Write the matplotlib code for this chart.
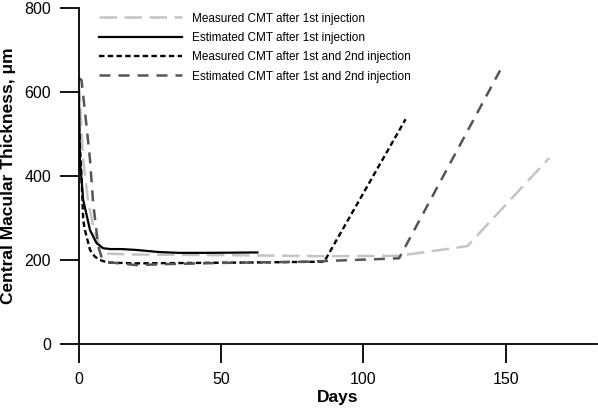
import matplotlib
matplotlib.use("Agg")
import matplotlib.pyplot as plt

plt.rcParams['font.family'] = ['Liberation Sans', 'DejaVu Sans']

# Measured CMT after 1st injection
m1_days = [0, 1.5, 3.3, 5.6, 7.4, 10, 20, 40, 60, 86, 112, 123, 136.5, 165.3]
m1_cmt = [620, 438, 335, 264, 232, 215, 213, 212, 211, 209, 210, 220, 233, 443]

# Estimated CMT after 1st injection
e1_days = [0, 0.35, 1.5, 3.9, 6.2, 8.5, 11, 15, 20, 28, 35, 45, 62.7]
e1_cmt = [600, 438, 343, 271, 240, 228, 226, 226, 224, 219, 217, 217, 218]

# Measured CMT after 1st and 2nd injection
m12_days = [0, 0.9, 1.5, 2.1, 3.3, 3.9, 5.6, 7.4, 10, 20, 40, 60, 86.2, 114.8]
m12_cmt = [520, 398, 295, 271, 240, 224, 208, 200, 194, 192, 193, 194, 196, 535]

# Estimated CMT after 1st and 2nd injection
e12_days = [0, 0.9, 2.7, 3.9, 5.0, 6.8, 7.9, 10, 20, 30, 50, 80, 112.5, 148]
e12_cmt = [633, 628, 517, 438, 335, 232, 208, 195, 188, 190, 193, 196, 204, 651]

labels = ["Measured CMT after 1st injection",
          "Estimated CMT after 1st injection",
          "Measured CMT after 1st and 2nd injection",
          "Estimated CMT after 1st and 2nd injection"]

fig = plt.figure(figsize=(5.98, 4.15), dpi=100)
ax = fig.add_axes([0.132, 0.171, 0.866, 0.810])

ax.plot(m1_days, m1_cmt, color='#c4c4c4', lw=1.8, dashes=(7, 3), label=labels[0])
ax.plot(e1_days, e1_cmt, color='black', lw=1.6, label=labels[1])
ax.plot(m12_days, m12_cmt, color='black', lw=1.7, dashes=(2.3, 1.4), label=labels[2])
ax.plot(e12_days, e12_cmt, color='#555555', lw=1.8, dashes=(4.4, 3.2), label=labels[3])

ax.set_xlim(0, 182)
ax.set_ylim(0, 800)
ax.set_xticks([0, 50, 100, 150])
ax.set_yticks([0, 200, 400, 600, 800])
for s in ['top', 'right']:
    ax.spines[s].set_visible(False)
for s in ['left', 'bottom']:
    ax.spines[s].set_linewidth(1.3)
ax.tick_params(direction='out', length=14, width=1.3, labelsize=11.5, pad=6)

ax.set_xlabel("Days", fontsize=12.5, fontweight='bold', labelpad=2)
ax.set_ylabel("Central Macular Thickness, \u03bcm", fontsize=12.5, fontweight='bold', labelpad=6)

leg = ax.legend(loc='upper left', bbox_to_anchor=(0.03, 1.0), frameon=False,
                fontsize=8.5, handlelength=7.0, handletextpad=0.9, labelspacing=0.62,
                borderaxespad=0)

fig.savefig("out.png", dpi=100)
